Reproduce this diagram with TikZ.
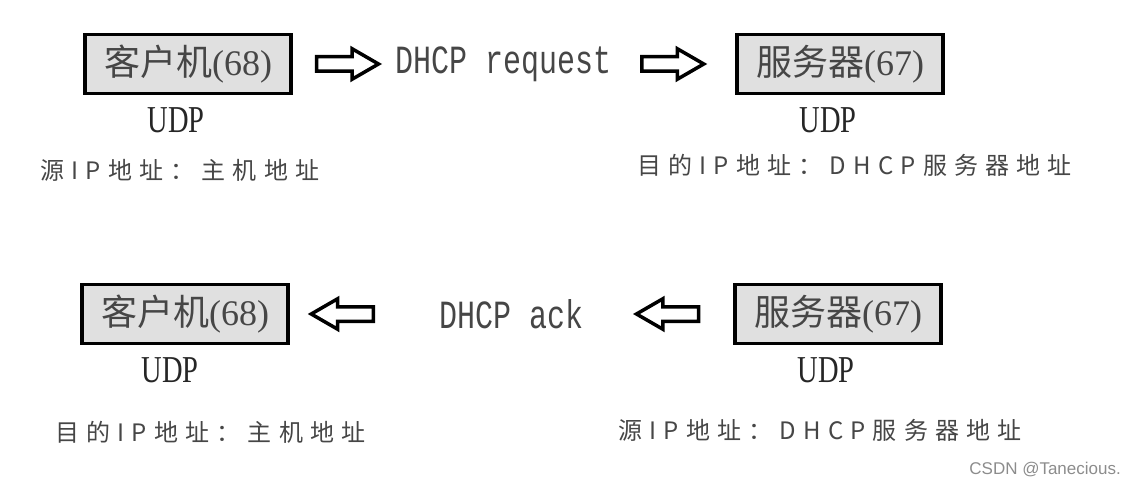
\documentclass[tikz,border=0pt]{standalone}
\usepackage{fontspec}
\setmainfont{Liberation Serif}
\setmonofont{Liberation Mono}
\setsansfont{Liberation Sans}
\newfontfamily\cjk{Noto Sans CJK SC}
\newfontfamily\cjkwide[LetterSpace=30]{Noto Sans CJK SC}
\newfontfamily\msgfont[FakeStretch=0.75]{Liberation Mono}
\newfontfamily\protofont[FakeStretch=0.75]{Liberation Serif}
\usetikzlibrary{positioning,shapes.arrows,calc}
\definecolor{boxfill}{RGB}{224,224,224}
\definecolor{txtgray}{RGB}{70,70,70}
\definecolor{markgray}{RGB}{140,140,140}

\begin{document}
\begin{tikzpicture}[x=1pt,y=-1pt,
    hostbox/.style={draw,line width=3.5pt,fill=boxfill,minimum width=206pt,minimum height=59pt,
      inner sep=2pt,font=\fontsize{36}{36}\selectfont,text=txtgray},
    blockarrow/.style={single arrow,draw,line width=3.5pt,fill=white,minimum height=62pt,
      single arrow head extend=8pt,single arrow tip angle=60,inner xsep=0pt,inner ysep=5.5pt},
    msg/.style={font=\msgfont\fontsize{40}{40}\selectfont,text=txtgray,inner sep=2pt},
    proto/.style={font=\protofont\fontsize{38}{38}\selectfont,text=black!85,inner sep=2pt},
    addr/.style={font=\cjkwide\fontsize{24}{24}\selectfont,text=txtgray,anchor=west,inner sep=0pt}]
  \useasboundingbox (0,0) rectangle (1127,492);
  % request: client -> server
  \node[hostbox] (cliReq) at (188,64) {{\cjk 客户机}(68)};
  \node[hostbox] (srvReq) at (840,64) {{\cjk 服务器}(67)};
  \node[blockarrow,right=22pt of cliReq] (arrReqA) {};
  \node[blockarrow,left=28pt of srvReq] (arrReqB) {};
  \node[msg] (msgReq) at ($(arrReqA)!0.5!(arrReqB)$) {DHCP request};
  \node[proto,below=10pt of cliReq,xshift=-12pt] (udpCliReq) {UDP};
  \node[proto,below=10pt of srvReq,xshift=-12pt] (udpSrvReq) {UDP};
  \node[addr] (srcReq) at (40,170) {源IP地址：主机地址};
  \node[addr] (dstReq) at (637,165) {目的IP地址：DHCP服务器地址};
  % ack: server -> client
  \node[hostbox] (cliAck) at (185,314) {{\cjk 客户机}(68)};
  \node[hostbox] (srvAck) at (838,314) {{\cjk 服务器}(67)};
  \node[blockarrow,shape border rotate=180,right=18pt of cliAck] (arrAckA) {};
  \node[blockarrow,shape border rotate=180,left=33pt of srvAck] (arrAckB) {};
  \node[msg] (msgAck) at ($(arrAckA)!0.5!(arrAckB)$) {DHCP ack};
  \node[proto,below=10pt of cliAck,xshift=-15pt] (udpCliAck) {UDP};
  \node[proto,below=10pt of srvAck,xshift=-12pt] (udpSrvAck) {UDP};
  \node[addr] (dstAck) at (55,432) {目的IP地址：主机地址};
  \node[addr] (srcAck) at (618,430) {源IP地址：DHCP服务器地址};
  \node[font=\sffamily\fontsize{17}{17}\selectfont,text=markgray,anchor=east,inner sep=0pt] (mark) at (1121,470) {CSDN @Tanecious.};
\end{tikzpicture}
\end{document}
